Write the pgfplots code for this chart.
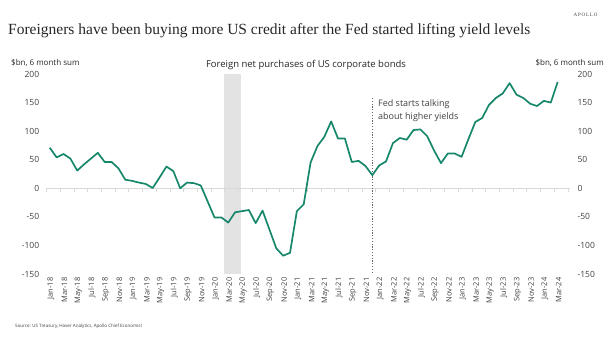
\documentclass[border=0pt]{standalone}
\usepackage{pgfplots}
\pgfplotsset{compat=1.18}
\usepackage{pgfplotstable}
\usepackage{fontspec}
\setmainfont{Liberation Serif}
\newfontfamily\lab{Open Sans}
\definecolor{linegreen}{HTML}{17876B}
\definecolor{txt}{HTML}{404040}
\definecolor{zline}{HTML}{D9D9D9}
\definecolor{band}{HTML}{E3E3E3}

\pgfplotstableread{
idx val
0 71
1 54
2 60
3 52
4 31
5 42
6 52
7 62
8 46
9 46
10 35
11 15
12 13
13 10
14 7.5
15 0.5
16 19
17 38
18 30
19 0
20 10
21 9
22 5
23 -23
24 -51
25 -51
26 -60
27 -42
28 -40
29 -38
30 -61
31 -39
32 -72
33 -105
34 -118
35 -113
36 -40
37 -28
38 45
39 74
40 90
41 117
42 87
43 87
44 46
45 48
46 39
47 23
48 40
49 47
50 79
51 88
52 85
53 102
54 103
55 91
56 66
57 44
58 61
59 61
60 55
61 86
62 116
63 123
64 146
65 158
66 166
67 184
68 164
69 158
70 148
71 144
72 153
73 150
74 186
}\datatable

\begin{document}
\begin{tikzpicture}[x=1pt,y=1pt]
\path[use as bounding box] (0,0) rectangle (615,341);
\pgfplotsset{
  common/.style={
    at={(46.7pt,67pt)}, anchor=south west,
    scale only axis, width=523.3pt, height=200pt,
    xmin=-0.45, xmax=75.8, ymin=-150, ymax=200,
    axis line style={draw=none}, major tick length=0pt,
    ytick={-150,-100,-50,0,50,100,150,200},
    yticklabels={-150,-100,-50,0,50,100,150,200},
    yticklabel style={font=\lab\fontsize{8.5}{10}\selectfont, text=txt},
    clip=false,
  }
}
\begin{axis}[common,
  xtick={0,2,...,74},
  xticklabels={Jan-18,Mar-18,May-18,Jul-18,Sep-18,Nov-18,Jan-19,Mar-19,May-19,Jul-19,Sep-19,Nov-19,Jan-20,Mar-20,May-20,Jul-20,Sep-20,Nov-20,Jan-21,Mar-21,May-21,Jul-21,Sep-21,Nov-21,Jan-22,Mar-22,May-22,Jul-22,Sep-22,Nov-22,Jan-23,Mar-23,May-23,Jul-23,Sep-23,Nov-23,Jan-24,Mar-24},
  xticklabel style={rotate=90, anchor=east, font=\lab\fontsize{7.5}{8}\selectfont, text=txt, yshift=-1pt},
  yticklabel style={anchor=east, xshift=-4pt},
]
\fill[band] (axis cs:25.4,-150) rectangle (axis cs:27.8,200);
\draw[zline, line width=0.8pt] (axis cs:-0.45,0) -- (axis cs:75.8,0);
\pgfplotsinvokeforeach{0,...,38}{
  \draw[zline, line width=0.6pt] (axis cs:{2*#1-0.5},0.5) -- ++(0pt,-4pt);
}
\draw[txt!80, line width=0.9pt, dash pattern=on 1.2pt off 1.6pt] (axis cs:47,158) -- (axis cs:47,-147);
\addplot[linegreen, line width=1.7pt, line join=round] table[x=idx, y=val] {\datatable};
\end{axis}
\begin{axis}[common, xtick=\empty, yticklabel pos=right,
  yticklabel style={anchor=west, xshift=4pt}]
\end{axis}

% texts
\node[anchor=base west, inner sep=0, text=black!85, font=\fontsize{15.5}{18}\selectfont] at (8,306) {Foreigners have been buying more US credit after the Fed started lifting yield levels};
\node[anchor=center, inner sep=0, text=txt, font=\fontsize{5}{6}\selectfont] at (585.5,326) {A\,P\,O\,L\,L\,O};
\node[anchor=west, inner sep=0, text=black!85, font=\lab\fontsize{8}{9}\selectfont] at (11,278) {\$bn, 6 month sum};
\node[anchor=east, inner sep=0, text=black!85, font=\lab\fontsize{8}{9}\selectfont] at (604,278) {\$bn, 6 month sum};
\node[anchor=center, inner sep=0, text=black!85, font=\lab\fontsize{9.5}{11}\selectfont] at (306,276) {Foreign net purchases of US corporate bonds};
\node[anchor=west, inner sep=0, text=txt, font=\lab\fontsize{9}{11}\selectfont] at (378,237) {Fed starts talking};
\node[anchor=west, inner sep=0, text=txt, font=\lab\fontsize{9}{11}\selectfont] at (378,224) {about higher yields};
\node[anchor=west, inner sep=0, text=txt, font=\lab\fontsize{4.5}{5}\selectfont] at (15,15) {Source: US Treasury, Haver Analytics, Apollo Chief Economist};
\end{tikzpicture}
\end{document}
